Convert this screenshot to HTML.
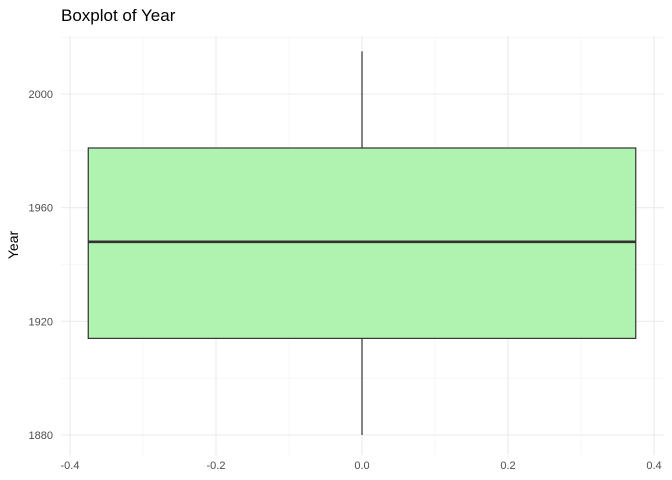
<!DOCTYPE html>
<html><head><meta charset="utf-8"><style>
body{margin:0;background:#fff;}
svg{display:block;font-family:"Liberation Sans",sans-serif;}
</style></head><body>
<svg id="chart" width="672" height="480">
<text x="61" y="21" font-size="17" fill="#000">Boxplot of Year</text>
<text transform="translate(18,245) rotate(-90)" font-size="14" text-anchor="middle" fill="#000">Year</text>
<g id="grid"></g><g id="box"></g><g id="axes"></g>
</svg>
<script>
const xTicks=[-0.4,-0.2,0.0,0.2,0.4];
const xTickLabels=["-0.4","-0.2","0.0","0.2","0.4"];
const yTicks=[1880,1920,1960,2000];
const yMinor=[1900,1940,1980,2020];
const xMinor=[-0.3,-0.1,0.1,0.3];
const whiskerLow=[1880];
const q1=[1914];
const median=[1948];
const q3=[1981];
const whiskerHigh=[2015];
const boxHalfWidth=[0.375];
const NS="http://www.w3.org/2000/svg";
const L=61,R=664,T=36,B=455;
const xs=v=>362+(v)*730;
const ys=v=>94+(2000-v)*(435-94)/120;
function mk(tag,attrs,parent){const e=document.createElementNS(NS,tag);for(const k in attrs)e.setAttribute(k,attrs[k]);document.getElementById(parent).appendChild(e);return e;}
xMinor.forEach(v=>{const e=mk('line',{x1:xs(v),x2:xs(v),y1:T,y2:B,stroke:'#f2f2f2','stroke-width':0.6},'grid');

});
yMinor.forEach(v=>{const e=mk('line',{x1:L,x2:R,y1:ys(v),y2:ys(v),stroke:'#f2f2f2','stroke-width':0.6},'grid');

});
xTicks.forEach((v,i)=>{const e=mk('line',{x1:xs(v),x2:xs(v),y1:T,y2:B,stroke:'#ebebeb','stroke-width':1.1},'grid');


const t=mk('text',{x:xs(v),y:469,'font-size':11,'text-anchor':'middle',fill:'#4d4d4d'},'axes');t.textContent=xTickLabels[i];

});
yTicks.forEach(v=>{const e=mk('line',{x1:L,x2:R,y1:ys(v),y2:ys(v),stroke:'#ebebeb','stroke-width':1.1},'grid');


const t=mk('text',{x:53,y:ys(v)+4,'font-size':11,'text-anchor':'end',fill:'#4d4d4d'},'axes');t.textContent=String(v);

});
const w1=mk('line',{x1:xs(0),x2:xs(0),y1:ys(whiskerHigh[0]),y2:ys(q3[0]),stroke:'#333','stroke-width':1.2},'box');


const w2=mk('line',{x1:xs(0),x2:xs(0),y1:ys(q1[0]),y2:ys(whiskerLow[0]),stroke:'#333','stroke-width':1.2},'box');


const r=mk('rect',{x:xs(-boxHalfWidth[0]),y:ys(q3[0]),width:xs(boxHalfWidth[0])-xs(-boxHalfWidth[0]),height:ys(q1[0])-ys(q3[0]),fill:'#b0f2b0',stroke:'#333','stroke-width':1.2},'box');


const m=mk('line',{x1:xs(-boxHalfWidth[0]),x2:xs(boxHalfWidth[0]),y1:ys(median[0]),y2:ys(median[0]),stroke:'#333','stroke-width':2.6},'box');


</script>
</body></html>
